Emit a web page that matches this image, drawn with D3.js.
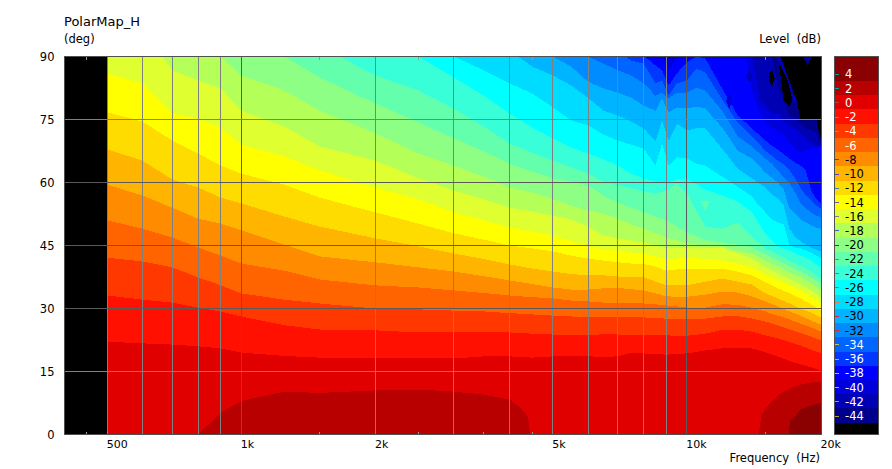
<!DOCTYPE html>
<html><head><meta charset="utf-8">
<script src="https://cdn.jsdelivr.net/npm/d3@7/dist/d3.min.js"></script>
<style>html,body{margin:0;padding:0;background:#fff}svg{display:block}
text{font-family:"DejaVu Sans",Verdana,sans-serif;font-size:11.5px;fill:#000}</style></head>
<body><svg id="c" width="892" height="469"></svg>
<script>
// colour bands: band L covers [L, L+2) dB, the top band is everything >= 4, below -44 is black
const bandLevels = [4,2,0,-2,-4,-6,-8,-10,-12,-14,-16,-18,-20,-22,-24,-26,-28,-30,-32,-34,-36,-38,-40,-42,-44];
const bandColors = ["#8b0000","#b80000","#e00000","#ff1000","#ff3800","#ff6400","#ff8c00","#ffb400","#ffdc00","#ffff00","#dfff30","#b4ff58","#8cff84","#64ffac","#38ffd8","#00ffff","#00dcff","#00b4ff","#008cff","#0064ff","#0038ff","#0000ff","#0000dc","#0000b4","#00008c"];
const bandTickColors = ["#00a0a0","#00a0a0","#c04040","#c07070","#c08060","#60a090","#4040c0","#6040c0","#4080c0","#6060b0","#808080","#4060c0","#206020","#e06040","#a060a0","#e04060","#e08040","#e02040","#e02040","#c0c060","#c0b060","#c0c060","#c0c060","#c0a020","#c0a020"];
const xLabelTicks = [500,1000,2000,5000,10000,20000];
const xGridLight = [500,600,700,800,900,2000,3000,4000,5000,6000,7000,8000,9000];
const xGridDark = [1000,10000];
const xMinorTicks = [450,1500,2500,3500,4500,15000];
const yTicks = [0,15,30,45,60,75,90];
const yGridLight = [15,75];
const yGridDark = [30,45,60];

// iso-level curves: angle (deg) reached by each dB level at each frequency; arrays align to the right end of their frequency list
const freqs = [500,600,700,800,900,1000,1250,1500,2000,2500,3000,3500,4000,4500,5000,5500,6000,6500,7000,7500,8000,8500,9000,9500,10000,11000,12000,13000,14000,15000,16000,17000,18000,19000,20000];
const coldFreqs = [2500,3000,3500,4000,4500,5000,5500,6000,6500,7000,7500,8000,8500,8800,9100,9500,10000,10500,11000,12000,13000,14000,14500,15000,15500,16000,16500,17000,17500,18000,18500,19000,19500,20000];
const freqsL4 = [16900,17050,17500,18000,19000,20000];
const freqsL2 = [800,900,1000,1250,1500,2000,2500,3000,3500,4000,4250,4400,4450,14500,14700,15000,16000,17000,18000,19000,20000];
const lvl4 = [0,3.3,4.3,6,6.9,7.6];
const lvl2 = [0,5.2,8,10.2,9.9,10.5,10.7,10.2,9.5,8.3,6.2,4.3,0,0,4.5,6.2,9.3,11,11.9,12.4,12.6];
const lvl0 = [22.1,21.7,21.4,21,20.5,19.5,18.7,18.3,18.3,18.1,18.1,18.6,18.6,18.3,18.6,18.6,18.6,18.5,18.6,19.4,19.3,19.2,19,19.2,19.3,20,20.5,20.7,20.5,19.6,18.6,17.5,16.7,16,15.2];
const lvlM2 = [33.1,32.1,31.4,30.2,29.3,28.1,26,25,24.8,24.3,24.3,24.5,24.3,24,23.8,23.6,23.6,23.9,23.8,23.6,23.6,23.6,23.6,23.5,23.5,24,24.9,25,24.5,23.6,22.9,22,21.2,20.2,19.3];
const lvlM4 = [42.1,41.2,39.8,37.4,35.5,33.6,32.1,31.2,30,29.8,29.5,29.3,28.9,28.6,28.3,28.1,28,28,27.9,27.9,27.9,27.7,27.6,27.6,27.6,27.6,28.1,28.2,27.6,26.9,26,25,24.2,23.3,22.4];
const lvlM6 = [51,49,46.9,44.5,42.6,40.7,39,36.9,35.5,35,34.3,33.7,33.1,32.7,32.4,31.9,31.7,31.4,31.4,31.3,31.2,31,30.7,30.5,30.2,30.2,31,30.9,30.2,29.3,28.3,27.4,26.4,25.5,24.5];
const lvlM8 = [59.5,56.9,54,51.4,50.2,48.6,45.2,42.4,41,39.8,38.8,37.7,36.7,35.8,35,34.5,34.5,34.8,34.9,34.6,34.3,33.6,32.9,32.8,32.8,33.3,34,33.8,32.9,31.7,30.5,29.3,28.3,27.1,26.2];
const lvlM10 = [67.9,65.2,60.7,58.8,56.4,55,51.9,49.5,46.7,44.8,43.1,41.8,40.5,39.5,38.8,38.2,37.9,37.9,37.6,37.5,37.5,36.4,35.5,35.5,35.5,36.4,37.1,36.4,35.7,33.6,32.4,31.2,30,29,27.9];
const lvlM12 = [76.7,74.5,70,66.9,64,62.1,59.5,56.4,52.9,50.2,47.9,46.4,45,44.3,43.6,42.6,41.9,41.4,41,40.7,40.6,40,39,39.3,39.5,39.5,39.5,38.8,37.9,36.2,34.8,33.6,32.4,31,29.5];
const lvlM14 = [86,83.6,76.4,75.2,72.9,69,66.2,62.9,58.8,56,52.9,51,49.3,48.3,47.4,46,45,44,43.8,43.3,43.1,42.4,41.7,41.9,42.1,41.8,41.4,40.7,39.8,38.1,36.7,35.5,34.3,32.9,31.2];
const lvlM16 = [98,96.7,86.7,84.3,82.4,77.1,73.3,68.6,65.2,61,58.1,56,54,53.1,52.1,51.2,49.5,47.4,46.7,46.2,45.7,45,44.3,44.3,44.3,44.4,44.5,43.1,41.9,39.8,38.3,36.9,35.7,34.3,32.6];
const lvlM18 = [108,102,96,90,85.5,81.9,77.1,71.7,66.9,64,61.4,58.8,57.6,56.2,54.5,53.3,52.6,51.4,50,49,47.9,46.9,46.2,45.5,45,44.8,43.8,43.1,41.4,40,38.6,37.4,36,34.3];
const lvlM20 = [96,93,90,85,78.8,74.3,70.5,67.4,64.5,62.6,61,60.2,59.3,56.9,55.2,54,52.9,51.9,51,49.5,48.1,46.4,45.7,45.2,44.5,42.9,41.4,40,38.8,37.4,36];
const lvlM22 = [98.6,92.4,85.5,81.9,77.6,73.3,69.3,67.1,65.2,63.6,62.1,60.2,59.3,58.6,57.9,57.4,58.1,59.8,57.4,49.5,49,50.5,47.1,44.3,42.9,41.4,40.2,38.8,37.1];
const lvlM24 = [100,93.8,90,85,80.7,76.4,73.1,70.5,68.3,66.9,65.5,64,62.1,61,60.2,60,60.7,61,58.3,56.9,55.5,52.9,47.8,44.8,43.8,42.6,41.4,39.8];
const lvlM26 = [93.8,90,86.7,83.6,81.2,77.9,74.8,73.6,71.4,70,69,68.1,64,69.3,64,66,65.7,64.5,64,61.4,59,56.7,54.5,52.9,51.2,50.5,50,45,44.5,44.3,43.8,43.3,42.6,41.9];
const lvlM28 = [100.9,96.2,91.4,87.6,85.5,83.1,80.2,77.1,76,74.5,72.9,69.8,74.8,70,74,72.4,72.9,72.9,68.1,63.3,61,59.8,58.8,57.1,56.2,54.5,49,47.1,46,45.2,44.5,44,43.6];
const lvlM30 = [100,94.3,90,87.6,84,82.4,81.4,80.2,78.3,77.1,80,76.7,77.9,77.6,78.1,77.6,73.1,67.6,65.7,64,62.4,61.2,60,58.3,53.8,52.6,51.2,50.5,49.8,49.3,49];
const lvlM32 = [96.2,93.8,90,88.3,86.7,85.5,83.6,80.7,81.4,80,81.4,81.4,82.6,81.9,77.1,71,68.6,67.1,65.7,64.5,62.9,61.2,59.8,57.6,55,53.8,52.9,52.1,51.7];
const lvlM34 = [101,96.2,91.4,89,88.3,83.6,84.3,80.7,83.6,84.3,87.1,86.2,79.8,74.3,71,69.3,67.6,66.4,65.2,64.3,62.9,61,58.6,56.9,55.7,54.5,53.8];
const lvlM36 = [98.6,93.8,90.2,87.9,86.7,83.1,86,88.6,90,89.5,82.4,76,72.9,71.4,70,68.8,67.9,66.7,65.7,64.8,64,62.9,58.1,56.2,55];
const lvlM38 = [96.2,91.4,90,86.7,90,92.6,96.2,96.2,96.2,103.3,81.9,77.1,74.3,73.1,72.4,71.2,69.5,68.1,67.1,67.6,68.1,68.3,68.6];
const lvlM40 = [105,105,105,105,105,105,105,105,112.9,90,81.9,78.3,76.4,76.4,74.8,73.6,72.9,71.7,70.5,69.5,68.8,68.6];
const lvlM42 = [118,96.2,91.4,90,83.1,79,76,75.2,74,72.9,72.4,71.7,68.6];
const lvlM44 = [93.8,90,79.5,78.1,81.2,75,75,75.2,75.2,70];

// small closed islands of one band left over in the noisy corner (band: dB level, null = below scale)
const islandBands = [null,-42,-44,-42,-40,-42,-22];
const islandFreqs = [[15500,15750,15500,15260],[15830,16240,17600,17350,16850],[18200,19100,18650],[13820,14070,13820,13570],[12450,12650,12450,12250],[14800,15080,14800,14500],[10700,11300,11000]];
const islandAngles = [[87.1,84.8,82.6,84.8],[90,90,79.5,78.6,84.3],[90,90,88],[86.7,85.2,83.8,85.2],[81.4,79.5,77.6,79.5],[81.4,80,78.6,80],[55.7,55.7,53.3]];

const levelSeries = [
 [-44,coldFreqs,lvlM44],[-42,coldFreqs,lvlM42],[-40,coldFreqs,lvlM40],[-38,coldFreqs,lvlM38],[-36,coldFreqs,lvlM36],[-34,coldFreqs,lvlM34],[-32,coldFreqs,lvlM32],[-30,coldFreqs,lvlM30],[-28,coldFreqs,lvlM28],[-26,coldFreqs,lvlM26],
 [-24,freqs,lvlM24],[-22,freqs,lvlM22],[-20,freqs,lvlM20],[-18,freqs,lvlM18],[-16,freqs,lvlM16],[-14,freqs,lvlM14],[-12,freqs,lvlM12],[-10,freqs,lvlM10],[-8,freqs,lvlM8],[-6,freqs,lvlM6],[-4,freqs,lvlM4],[-2,freqs,lvlM2],[0,freqs,lvl0],
 [2,freqsL2,lvl2],[4,freqsL4,lvl4]
];

const W=892,H=469,L=64.5,R=821.5,T=56.5,B=434.5;
const svg=d3.select("#c");
const x=d3.scaleLog().domain([400,20000]).range([64,821]);
const y=d3.scaleLinear().domain([0,90]).range([B,T]);
const bandColor=d3.scaleOrdinal().domain(bandLevels).range(bandColors);
const barY=d3.scaleLinear().domain([4,-44]).range([81,422.7]);

svg.append("clipPath").attr("id","plot").append("rect").attr("x",L).attr("y",T).attr("width",R-L).attr("height",B-T);
const plot=svg.append("g").attr("clip-path","url(#plot)");
plot.append("rect").attr("x",L).attr("y",T).attr("width",R-L).attr("height",B-T).attr("fill","#000");

const area=d3.area().x(d=>x(d[0])).y0(y(0)).y1(d=>y(d[1]));
levelSeries.forEach(([lv,fs,as])=>{
  const use=fs.slice(-as.length);
  plot.append("path").datum(as.map((a,i)=>[use[i],a])).attr("d",area).attr("fill",bandColor(lv)).attr("shape-rendering","crispEdges");
});
const poly=d3.line().x(d=>x(d[0])).y(d=>y(d[1])).curve(d3.curveLinearClosed);
islandBands.forEach((b,k)=>{
  plot.append("path").datum(islandFreqs[k].map((f,i)=>[f,islandAngles[k][i]])).attr("d",poly)
    .attr("fill",b===null?"#000":bandColor(b)).attr("shape-rendering","crispEdges");
});

// grid
const grid=svg.append("g").attr("shape-rendering","crispEdges");
const vline=(f,c)=>grid.append("line").attr("x1",Math.floor(x(f))+.5).attr("x2",Math.floor(x(f))+.5).attr("y1",T).attr("y2",B).attr("stroke",c);
const hline=(a,c)=>grid.append("line").attr("x1",L).attr("x2",R).attr("y1",Math.round(y(a)-.5)+.5).attr("y2",Math.round(y(a)-.5)+.5).attr("stroke",c);
xGridLight.forEach(f=>vline(f,"#808080"));
xGridDark.forEach(f=>vline(f,"#5a5a5a"));
yGridLight.forEach(a=>hline(a,"#808080"));
yGridDark.forEach(a=>hline(a,"#5a5a5a"));
xMinorTicks.forEach(f=>{
  const px=Math.floor(x(f))+.5;
  grid.append("line").attr("x1",px).attr("x2",px).attr("y1",T).attr("y2",T+3).attr("stroke","#999");
  grid.append("line").attr("x1",px).attr("x2",px).attr("y1",B-3).attr("y2",B).attr("stroke","#999");
});
grid.append("rect").attr("x",L).attr("y",T).attr("width",R-L-.5).attr("height",B-T).attr("fill","none").attr("stroke","#505050");

// axes
const fmtX=d=>d>=1000?(d/1000)+"k":d;
const ax=svg.append("g").attr("transform",`translate(0,${B})`).call(d3.axisBottom(x).tickValues(xLabelTicks).tickFormat(fmtX).tickSize(0).tickPadding(6));
ax.select(".domain").remove();
ax.selectAll("text").attr("text-anchor","start").attr("x",-1).style("font-family",'"DejaVu Sans"').style("font-size","11px");
const ay=svg.append("g").attr("transform",`translate(${L},0)`).call(d3.axisLeft(y).tickValues(yTicks).tickFormat(d3.format("d")).tickSize(0).tickPadding(10));
ay.select(".domain").remove();
ay.selectAll("text").style("font-family",'"DejaVu Sans"').style("font-size","11.5px");

const label=(t,px,py,anchor)=>svg.append("text").attr("x",px).attr("y",py).attr("text-anchor",anchor||"start").text(t);
label("PolarMap_H",64,26).style("font-size","13px");
label("(deg)",64,43);
label("Level  (dB)",821,43,"end").style("white-space","pre");
label("Frequency  (Hz)",820,462,"end").style("white-space","pre");

// colour bar
const bar=svg.append("g").attr("shape-rendering","crispEdges");
const BL=834.5,BW=44;
bar.append("rect").attr("x",BL).attr("y",T).attr("width",BW).attr("height",B-T).attr("fill","#000");
bandLevels.forEach((lv,i)=>{
  const top=i===0?T:barY(lv+2), bot=barY(lv);
  bar.append("rect").attr("x",BL).attr("width",BW).attr("y",Math.round(top)).attr("height",Math.round(bot)-Math.round(top)).attr("fill",bandColors[i]);
  bar.append("line").attr("x1",BL).attr("x2",BL+4).attr("y1",Math.round(barY(lv+1))+.5).attr("y2",Math.round(barY(lv+1))+.5).attr("stroke",bandTickColors[i]);
  svg.append("text").attr("x",845).attr("y",barY(lv+1)+4.5).text(lv).style("fill",(lv>=-6||lv<=-34)?"#fff":"#000").style("font-size","11.5px");
});
bar.append("rect").attr("x",BL).attr("y",T).attr("width",BW).attr("height",B-T).attr("fill","none").attr("stroke","#505050");
</script></body></html>
